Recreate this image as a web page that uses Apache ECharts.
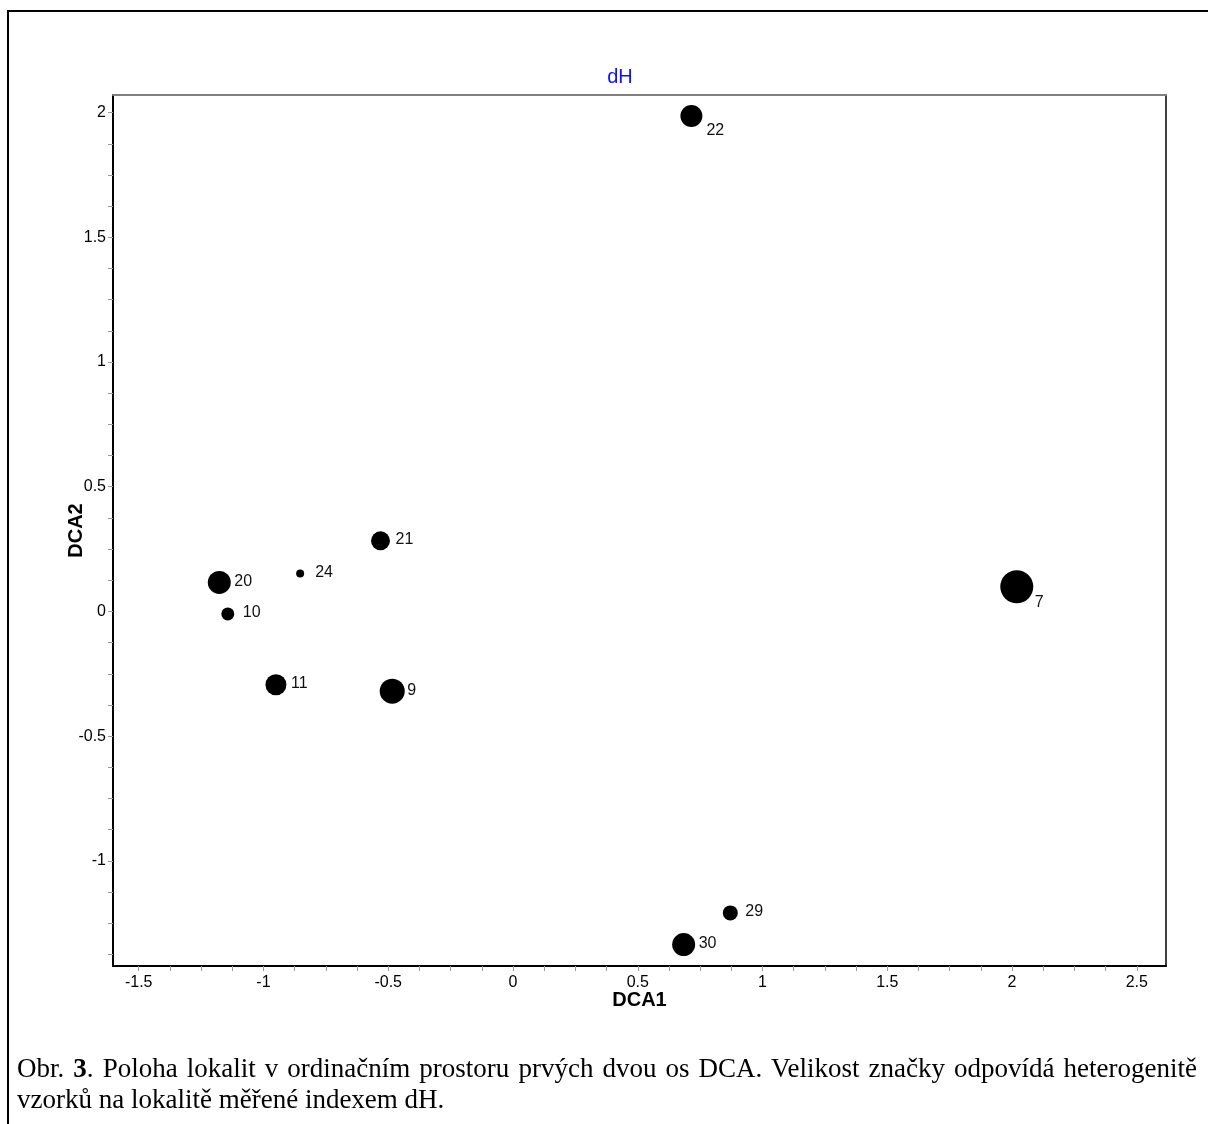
<!DOCTYPE html>
<html>
<head>
<meta charset="utf-8">
<title>dH</title>
<script src="https://cdn.jsdelivr.net/npm/echarts@6/dist/echarts.min.js"></script>
<style>
    html, body { margin: 0; padding: 0; background: #fff; }
    #wrap { position: relative; width: 1208px; height: 1124px; overflow: hidden; }
    #chart { position: absolute; left: 0; top: 0; width: 1208px; height: 1124px; }
    #frame { position: absolute; left: 7px; top: 10px; right: -4px; bottom: -4px;
             border-left: 2px solid #000; border-top: 2px solid #000; pointer-events: none; }
    #caption { position: absolute; left: 17px; top: 1053px; width: 1180px;
               font-family: "Liberation Serif", "Times New Roman", serif; font-size: 27px;
               line-height: 31px; text-align: justify; text-align-last: left; color: #000; }
</style>
</head>
<body>
<div id="wrap">
    <div id="chart"></div>
    <div id="frame"></div>
    <div id="caption">Obr. <b>3</b>. Poloha lokalit v ordinačním prostoru prvých dvou os DCA. Velikost značky odpovídá heterogenitě vzorků na lokalitě měřené indexem dH.</div>
</div>
<script>
// lokality a jejich skore na prvnich dvou osach DCA
const siteNames = ['22', '7', '21', '24', '20', '10', '11', '9', '29', '30'];
const dca1 = [0.715, 2.019, -0.531, -0.853, -1.177, -1.143, -0.950, -0.484, 0.871, 0.684];
const dca2 = [1.987, 0.099, 0.283, 0.152, 0.116, -0.010, -0.294, -0.320, -1.209, -1.336];
// velikost znacky (prumer v px) ~ index dH
const dHSize = [22, 33, 19, 8, 23, 13, 21, 25, 15, 23];

const xTicks = [-1.5, -1, -0.5, 0, 0.5, 1, 1.5, 2, 2.5];
const yTicks = [-1, -0.5, 0, 0.5, 1, 1.5, 2];
const xRange = [-1.603, 2.617];
const yRange = [-1.422, 2.071];

// popisky, ktere jsou posunute dolu
const lowLabels = { '22': 15, '7': 16 };

const FONT = '"Liberation Sans", Arial, sans-serif';

// vedlejsi carky po 0.125
function tickValues(major, range) {
    let out = [];
    let step = (major[1] - major[0]) / 4;
    for (let v = major[0] - 4 * step; v <= major[major.length - 1] + 4 * step + 1e-9; v += step) {
        let r = Math.round(v * 1000) / 1000;
        if (r >= range[0] && r <= range[1]) out.push(r);
    }
    return out;
}

let points = siteNames.map((name, i) => {
    let size = dHSize[i];
    return {
        name: name,
        value: [dca1[i], dca2[i]],
        symbolSize: size,
        label: {
            distance: Math.max(15 - size / 2, 1.5),
            offset: [0, lowLabels[name] || -1]
        }
    };
});

let chart = echarts.init(document.getElementById('chart'), null, { renderer: 'canvas' });

const option = {
    backgroundColor: '#fff',
    animation: false,
    title: {
        text: 'dH',
        left: 615,
        top: 62,
        textAlign: 'center',
        textStyle: { color: '#1010ff', fontFamily: FONT, fontSize: 20, fontWeight: 'normal' }
    },
    grid: { left: 113, right: 42, top: 95, bottom: 158, containLabel: false },
    xAxis: [{
        type: 'value',
        position: 'bottom',
        min: xRange[0],
        max: xRange[1],
        name: 'DCA1',
        nameLocation: 'middle',
        nameGap: 24,
        nameMoveOverlap: false,
        nameTextStyle: { color: '#000', fontFamily: FONT, fontSize: 20, fontWeight: 'bold' },
        axisLine: { show: true, onZero: false, lineStyle: { color: '#000', width: 2 } },
        axisTick: { show: true, inside: false, length: 5, customValues: tickValues(xTicks, xRange),
                    lineStyle: { color: '#999', width: 1 } },
        axisLabel: { customValues: xTicks, margin: 9, color: '#000', fontFamily: FONT, fontSize: 16,
                     formatter: v => String(v) },
        splitLine: { show: false }
    }, {
        type: 'value',
        position: 'top',
        min: xRange[0],
        max: xRange[1],
        axisLine: { show: true, onZero: false, lineStyle: { color: '#808080', width: 2 } },
        axisTick: { show: false },
        axisLabel: { show: false },
        splitLine: { show: false }
    }],
    yAxis: [{
        type: 'value',
        position: 'left',
        min: yRange[0],
        max: yRange[1],
        name: 'DCA2',
        nameLocation: 'middle',
        nameGap: 27,
        nameMoveOverlap: false,
        nameTextStyle: { color: '#000', fontFamily: FONT, fontSize: 20, fontWeight: 'bold' },
        axisLine: { show: true, onZero: false, lineStyle: { color: '#000', width: 2 } },
        axisTick: { show: true, inside: false, length: 5, customValues: tickValues(yTicks, yRange),
                    lineStyle: { color: '#999', width: 1 } },
        axisLabel: { customValues: yTicks, margin: 7, color: '#000', fontFamily: FONT, fontSize: 16,
                     formatter: v => String(v) },
        splitLine: { show: false }
    }, {
        type: 'value',
        position: 'right',
        min: yRange[0],
        max: yRange[1],
        axisLine: { show: true, onZero: false, lineStyle: { color: '#404040', width: 2 } },
        axisTick: { show: false },
        axisLabel: { show: false },
        splitLine: { show: false }
    }],
    series: [{
        type: 'scatter',
        xAxisIndex: 0,
        yAxisIndex: 0,
        symbol: 'circle',
        itemStyle: { color: '#000', opacity: 1 },
        label: {
            show: true,
            position: 'right',
            formatter: p => p.name,
            color: '#111',
            fontFamily: FONT,
            fontSize: 16
        },
        emphasis: { disabled: true },
        data: points
    }]
};

chart.setOption(option);
</script>
</body>
</html>
